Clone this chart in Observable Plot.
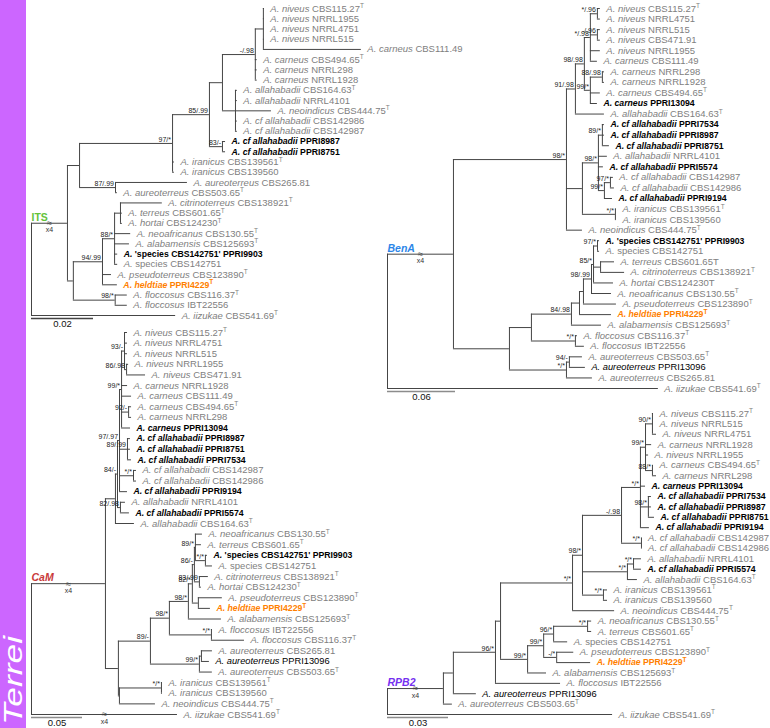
<!DOCTYPE html>
<html><head><meta charset="utf-8">
<script src="https://cdn.jsdelivr.net/npm/d3@7"></script>
<script src="https://cdn.jsdelivr.net/npm/@observablehq/plot@0.6"></script>
<style>
html,body{margin:0;padding:0;background:#fff;}
#fig{position:relative;width:770px;height:728px;overflow:hidden;font-family:'Liberation Sans',Arial,sans-serif;}
#fig svg{position:absolute;left:0;top:0;}
#band{position:absolute;left:0;top:0;width:26px;height:728px;background:#cc66ff;}
#clade{position:absolute;left:0;top:725px;transform-origin:0 0;transform:rotate(-90deg) scaleX(1.36);font-style:italic;font-size:26px;line-height:26px;color:#fff;white-space:nowrap;}
</style></head><body>
<div id="fig"><div id="band"></div><div id="clade">Terrei</div></div>
<script>
// Trees: internal node = [branch length, support, ...children]; leaf = ["epithet|strain", branch length, class]
// class: g = reference (grey), b = isolate (black bold), k = isolate (black), o = new species (orange); "4" = branch shortened x4
const itsTree = [0, "",
  [0.0116, "x4",
    [0.0039, "",
      [0.0300, "97/*",
        [0.0119, "85/.99",
          [0.0042, "",
            [0.0106, "-/.98",
              [0.0026, "",
                ["niveus|CBS115.27^T", 0.0003, "g"],
                ["niveus|NRRL1955", 0.0003, "g"],
                ["niveus|NRRL4751", 0.0003, "g"],
                ["niveus|NRRL515", 0.0003, "g"],
                ["carneus|CBS111.49", 0.0316, "g"]],
              ["carneus|CBS494.65^T", 0.0006, "g"],
              ["carneus|NRRL298", 0.0006, "g"],
              ["carneus|NRRL1928", 0.0006, "g"]],
            [0.0042, "",
              ["allahabadii|CBS164.63^T", 0.0006, "g"],
              ["allahabadii|NRRL4101", 0.0006, "g"],
              ["neoindicus|CBS444.75^T", 0.0116, "g"],
              ["cf allahabadii|CBS142986", 0.0006, "g"],
              ["cf allahabadii|CBS142987", 0.0006, "g"]]],
          [0.0042, "83/-",
            ["cf allahabadii|PPRI8987", 0.0010, "b"],
            ["cf allahabadii|PPRI8751", 0.0010, "b"]]],
        ["iranicus|CBS139561^T", 0.0006, "g"],
        ["iranicus|CBS139560", 0.0006, "g"]],
      [0.0116, "87/.99",
        ["aureoterreus|CBS265.81", 0.0232, "g"],
        ["aureoterreus|CBS503.65^T", 0.0006, "g"]]],
    [0.0019, "",
      [0.0094, "94/.99",
        [0.0039, "88/*",
          [0.0019, "",
            ["citrinoterreus|CBS138921^T", 0.0135, "g"],
            ["terreus|CBS601.65^T", 0.0006, "g"],
            ["hortai|CBS124230^T", 0.0006, "g"]],
          ["neoafricanus|CBS130.55^T", 0.0052, "g"],
          ["alabamensis|CBS125693^T", 0.0048, "g"],
          ["'species CBS142751'|PPRI9903", 0.0010, "b"],
          ["species|CBS142751", 0.0010, "g"]],
        ["pseudoterreus|CBS123890^T", 0.0029, "g"],
        ["heldtiae|PPRI4229^T", 0.0048, "o"]],
      [0.0135, "98/*",
        ["floccosus|CBS116.37^T", 0.0039, "g"],
        ["floccosus|IBT22556", 0.0039, "g"]]]],
  ["iizukae|CBS541.69^T", 0.0465, "g"]];

const camTree = [0, "",
  [0.0725, "x4",
    [0.0098, "",
      [0.0020, "84/-",
        [0.0020, "97/.97",
          [0.0020, "99/*",
            [0.0029, "93/-",
              ["niveus|CBS115.27^T", 0.0029, "g"],
              ["niveus|NRRL4751", 0.0029, "g"],
              ["niveus|NRRL515", 0.0029, "g"],
              [0.0020, "86/.98",
                ["niveus|NRRL1955", 0.0020, "g"],
                ["niveus|CBS471.91", 0.0186, "g"]]],
            ["carneus|NRRL1928", 0.0059, "g"],
            ["carneus|CBS111.49", 0.0098, "g"],
            [0.0069, "92/-",
              ["carneus|CBS494.65^T", 0.0029, "g"],
              ["carneus|NRRL298", 0.0029, "g"]],
            ["carneus|PPRI13094", 0.0088, "b"]],
          [0.0078, "89/.99",
            ["cf allahabadii|PPRI8987", 0.0029, "b"],
            ["cf allahabadii|PPRI8751", 0.0029, "b"],
            ["cf allahabadii|PPRI7534", 0.0039, "b"]],
          [0.0137, "*/*",
            ["cf allahabadii|CBS142987", 0.0029, "g"],
            ["cf allahabadii|CBS142986", 0.0029, "g"]],
          ["cf allahabadii|PPRI9194", 0.0078, "b"]],
        [0.0029, "82/.98",
          ["allahabadii|NRRL4101", 0.0049, "g"],
          ["cf allahabadii|PPRI5574", 0.0088, "b"]]],
      ["allahabadii|CBS164.63^T", 0.0186, "g"]],
    [0.0127, "",
      [0.0314, "89/-",
        [0.0186, "98/*",
          [0.0186, "98/*",
            [0.0039, "82/*",
              [0.0020, "86/-",
                [0.0010, "89/*",
                  ["neoafricanus|CBS130.55^T", 0.0069, "g"],
                  ["terreus|CBS601.65^T", 0.0059, "g"],
                  [0.0098, "*/*",
                    ["'species CBS142751'|PPRI9903", 0.0020, "b"],
                    ["species|CBS142751", 0.0069, "g"]]],
                [0.0049, "83/.99",
                  ["citrinoterreus|CBS138921^T", 0.0088, "g"],
                  ["hortai|CBS124230^T", 0.0020, "g"]]],
              [0.0059, "",
                ["pseudoterreus|CBS123890^T", 0.0235, "g"],
                ["heldtiae|PPRI4229^T", 0.0118, "o"]]],
            ["alabamensis|CBS125693^T", 0.0324, "g"]],
          [0.0412, "*/*",
            ["floccosus|IBT22556", 0.0010, "g"],
            ["floccosus|CBS116.37^T", 0.0324, "g"]]],
        [0.0480, "99/*",
          [0.0020, "",
            ["aureoterreus|CBS265.81", 0.0108, "g"],
            ["aureoterreus|PPRI13096", 0.0078, "k"]],
          ["aureoterreus|CBS503.65^T", 0.0127, "g"]]],
      [0.0010, "",
        [0.0412, "*/*",
          ["iranicus|CBS139561^T", 0.0010, "g"],
          ["iranicus|CBS139560", 0.0010, "g"]],
        ["neoindicus|CBS444.75^T", 0.0353, "g"]]]],
  ["iizukae|CBS541.69^T", 0.1431, "g4"]];

const benaTree = [0, "",
  [0.0582, "x4",
    [0.0997, "98/*",
      [0.0079, "91/.98",
        [0.0079, "98/.98",
          [0.0053, "*/.98",
            [0.0062, "*/.96",
              ["niveus|CBS115.27^T", 0.0026, "g"],
              ["niveus|NRRL4751", 0.0026, "g"]],
            [0.0062, "-/.96",
              ["niveus|NRRL515", 0.0026, "g"],
              ["niveus|CBS471.91", 0.0026, "g"]],
            ["niveus|NRRL1955", 0.0088, "g"],
            ["carneus|CBS111.49", 0.0062, "g"]],
          [0.0053, "99/*",
            [0.0106, "88/.98",
              ["carneus|NRRL298", 0.0018, "g"],
              ["carneus|NRRL1928", 0.0018, "g"]],
            ["carneus|CBS494.65^T", 0.0088, "g"],
            ["carneus|PPRI13094", 0.0062, "b"]]],
        ["allahabadii|CBS164.63^T", 0.0256, "g"]],
      [0.0141, "",
        [0.0141, "98/*",
          [0.0035, "89/*",
            ["cf allahabadii|PPRI7534", 0.0018, "b"],
            ["cf allahabadii|PPRI8987", 0.0018, "b"],
            ["cf allahabadii|PPRI8751", 0.0062, "b"]],
          ["allahabadii|NRRL4101", 0.0079, "g"],
          ["cf allahabadii|PPRI5574", 0.0044, "b"],
          [0.0053, "99/*",
            [0.0053, "97/*",
              ["cf allahabadii|CBS142987", 0.0026, "g"],
              ["cf allahabadii|CBS142986", 0.0035, "g"]],
            ["cf allahabadii|PPRI9194", 0.0071, "b"]]],
        [0.0291, "*/*",
          ["iranicus|CBS139561^T", 0.0009, "g"],
          ["iranicus|CBS139560", 0.0009, "g"]]],
      ["neoindicus|CBS444.75^T", 0.0141, "g"]],
    [0.0494, "",
      [0.0194, "",
        [0.0353, "84/.98",
          [0.0071, "",
            [0.0035, "",
              [0.0071, "98/.99",
                [0.0018, "85/*",
                  [0.0035, "97/*",
                    ["'species CBS142751'|PPRI9903", 0.0018, "b"],
                    ["species|CBS142751", 0.0018, "g"]],
                  [0.0062, "",
                    ["terreus|CBS601.65T", 0.0123, "g"],
                    ["citrinoterreus|CBS138921^T", 0.0212, "g"]],
                  ["hortai|CBS124230T", 0.0176, "g"]],
                ["neoafricanus|CBS130.55^T", 0.0176, "g"]],
              ["pseudoterreus|CBS123890^T", 0.0291, "g"]],
            ["heldtiae|PPRI4229^T", 0.0282, "o"]],
          ["alabamensis|CBS125693^T", 0.0265, "g"]],
        [0.0388, "*/*",
          ["floccosus|CBS116.37^T", 0.0018, "g"],
          ["floccosus|IBT22556", 0.0079, "g"]]],
      [0.0503, "*/*",
        [0.0026, "94/-",
          ["aureoterreus|CBS503.65^T", 0.0115, "g"],
          ["aureoterreus|PPRI13096", 0.0141, "k"]],
        ["aureoterreus|CBS265.81", 0.0229, "g"]]]],
  ["iizukae|CBS541.69^T", 0.2390, "g"]];

const rpb2Tree = [0, "",
  [0.0275, "x4",
    [0.0049, "",
      [0.0207, "96/*",
        [0.0025, "",
          [0.0354, "*/*",
            [0.0049, "98/*",
              [0.0192, "-/.98",
                [0.0093, "*/*",
                  [0.0025, "99/*",
                    [0.0034, "90/*",
                      ["niveus|CBS115.27^T", 0.0005, "g"],
                      ["niveus|NRRL515", 0.0005, "g"],
                      ["niveus|NRRL4751", 0.0020, "g"]],
                    ["carneus|NRRL1928", 0.0030, "g"],
                    ["niveus|NRRL1955", 0.0015, "g"],
                    [0.0034, "88/*",
                      ["carneus|CBS494.65^T", 0.0005, "g"],
                      ["carneus|NRRL298", 0.0020, "g"]]],
                  ["carneus|PPRI13094", 0.0025, "b"],
                  [0.0039, "98/*",
                    ["cf allahabadii|PPRI7534", 0.0015, "b"],
                    ["cf allahabadii|PPRI8987", 0.0015, "b"],
                    ["cf allahabadii|PPRI8751", 0.0030, "b"]],
                  ["cf allahabadii|PPRI9194", 0.0044, "b"]],
                [0.0098, "*/*",
                  ["cf allahabadii|CBS142987", 0.0003, "g"],
                  ["cf allahabadii|CBS142986", 0.0003, "g"]]],
              [0.0221, "*/*",
                [0.0030, "*/*",
                  ["allahabadii|NRRL4101", 0.0039, "g"],
                  ["cf allahabadii|PPRI5574", 0.0039, "b"]],
                ["allahabadii|CBS164.63^T", 0.0049, "g"]],
              [0.0103, "*/*",
                ["iranicus|CBS139561^T", 0.0020, "g"],
                ["iranicus|CBS139560", 0.0020, "g"]]],
            ["neoindicus|CBS444.75^T", 0.0207, "g"]],
          [0.0133, "99/*",
            [0.0079, "99/*",
              [0.0049, "96/*",
                [0.0167, "*/*",
                  ["neoafricanus|CBS130.55^T", 0.0020, "g"],
                  ["terreus|CBS601.65^T", 0.0020, "g"]],
                ["species|CBS142751", 0.0069, "g"]],
              [0.0064, "-/*",
                ["pseudoterreus|CBS123890^T", 0.0084, "g"],
                ["heldtiae|PPRI4229^T", 0.0167, "o"]]],
            ["alabamensis|CBS125693^T", 0.0093, "g"]]],
        ["floccosus|IBT22556", 0.0320, "g"]],
      ["aureoterreus|PPRI13096", 0.0113, "k"]],
    ["aureoterreus|CBS503.65^T", 0.0044, "g"]],
  ["iizukae|CBS541.69^T", 0.1107, "g"]];

const geneNames = ["ITS", "CaM", "BenA", "RPB2"];
const scaleValues = [0.02, 0.05, 0.06, 0.03];
const scaleLabels = ["0.02", "0.05", "0.06", "0.03"];
const trees = [itsTree, camTree, benaTree, rpb2Tree];

// layout of each panel (pixels) and styling
const layouts = [
  {rootX: 31, barPx: 62, yTop: 8, yBottom: 315, color: "#63c33a", italic: false, bar: "#444"},
  {rootX: 31, barPx: 51, yTop: 332, yBottom: 714, color: "#c93a3a", italic: true, bar: "#8c8c8c"},
  {rootX: 387, barPx: 68, yTop: 8, yBottom: 388, color: "#2c86e8", italic: true, bar: "#8c8c8c"},
  {rootX: 387, barPx: 61, yTop: 413, yBottom: 714, color: "#7530f0", italic: true, bar: "#8c8c8c"}
];
const classStyle = {
  g: {fill: "#808080", fontWeight: "normal", fontSize: 9.5},
  b: {fill: "#000000", fontWeight: "bold", fontSize: 8.7},
  k: {fill: "#000000", fontWeight: "normal", fontSize: 9.3},
  o: {fill: "#ff7f00", fontWeight: "bold", fontSize: 8.7}
};

function layoutTree(tree) {
  const leaves = [], hs = [], vs = [], sups = [], breaks = [];
  let idx = 0;
  function walk(node, px, depth) {
    if (typeof node[0] === "string") {
      const [name, len, cls] = node;
      const x = px + len, y = idx++;
      leaves.push({name, cls: cls[0], x, y});
      if (len > 0) hs.push({x1: px, x2: x, y});
      if (cls.includes("4")) breaks.push({x: px + len / 2, y});
      return {x, y};
    }
    const [len, sup, ...kids] = node;
    const x = px + len;
    const kp = kids.map(k => walk(k, x, depth + 1));
    const y1 = kp[0].y, y2 = kp[kp.length - 1].y;
    const y = (y1 + y2) / 2;
    vs.push({x, y1, y2});
    if (depth > 0) {
      hs.push({x1: px, x2: x, y});
      if (sup === "x4") breaks.push({x: px + len / 2, y});
      else if (sup) sups.push({x, y, s: sup});
    }
    return {x, y, kp};
  }
  const root = walk(tree, 0, 0);
  return {leaves, hs, vs, sups, breaks, n: idx, firstY: root.kp[0].y};
}

function styleLabels(svg) {
  d3.select(svg).selectAll("text").each(function () {
    const t = this.textContent;
    if (!t.includes("|")) return;
    const [ep, st] = t.split("|");
    const sel = d3.select(this).text(null).attr("xml:space", "preserve");
    const plain = ep.startsWith("'") || ep === "species";
    sel.append("tspan").attr("font-style", "italic").text(plain ? "A. " : "A. " + ep + " ");
    if (plain) sel.append("tspan").text(ep + " ");
    const sup = st.endsWith("^T");
    sel.append("tspan").text(sup ? st.slice(0, -2) : st);
    if (sup) sel.append("tspan").attr("font-size", 6.5).attr("dy", -3.5).text("T");
  });
}

const fig = document.getElementById("fig");
trees.forEach((tree, i) => {
  const L = layoutTree(tree);
  const cfg = layouts[i];
  const sv = scaleValues[i];
  const leafMarks = Object.keys(classStyle).map(c =>
    Plot.text(L.leaves.filter(d => d.cls === c), {
      x: "x", y: "y", text: "name", textAnchor: "start", dx: 6,
      fontSize: classStyle[c].fontSize, fill: classStyle[c].fill, fontWeight: classStyle[c].fontWeight
    }));
  const svg = Plot.plot({
    width: 770, height: 728, margin: 0,
    style: {background: "transparent", fontFamily: "'Liberation Sans', Arial, sans-serif"},
    x: {domain: [0, sv], range: [cfg.rootX, cfg.rootX + cfg.barPx], axis: null},
    y: {domain: [0, L.n - 1], range: [cfg.yTop, cfg.yBottom], axis: null},
    marks: [
      Plot.ruleY(L.hs, {x1: "x1", x2: "x2", y: "y", stroke: "#454545", strokeWidth: 1}),
      Plot.ruleX(L.vs, {x: "x", y1: "y1", y2: "y2", stroke: "#454545", strokeWidth: 1}),
      ...leafMarks,
      Plot.text(L.sups, {x: "x", y: "y", text: "s", textAnchor: "end", dx: -1.5, dy: -4, fontSize: 7, fill: "#222"}),
      Plot.text(L.breaks, {x: "x", y: "y", text: () => "≈", fontSize: 9, fill: "#333"}),
      Plot.text(L.breaks, {x: "x", y: "y", text: () => "x4", dy: 7, fontSize: 7, fill: "#333"}),
      Plot.ruleY([sv], {x1: () => 0, x2: d => d, y: () => L.n - 1, dy: 3, stroke: cfg.bar, strokeWidth: 1.6}),
      Plot.text([scaleLabels[i]], {x: () => sv / 2, y: () => L.n - 1, dy: 8.5, text: d => d, fontSize: 9.5, fill: "#111"}),
      Plot.text([geneNames[i]], {x: () => 0, y: () => L.firstY, dy: -6, text: d => d, textAnchor: "start",
        fontSize: 10.5, fontWeight: "bold", fontStyle: cfg.italic ? "italic" : "normal", fill: cfg.color})
    ]
  });
  styleLabels(svg);
  fig.appendChild(svg);
});
</script></body></html>
